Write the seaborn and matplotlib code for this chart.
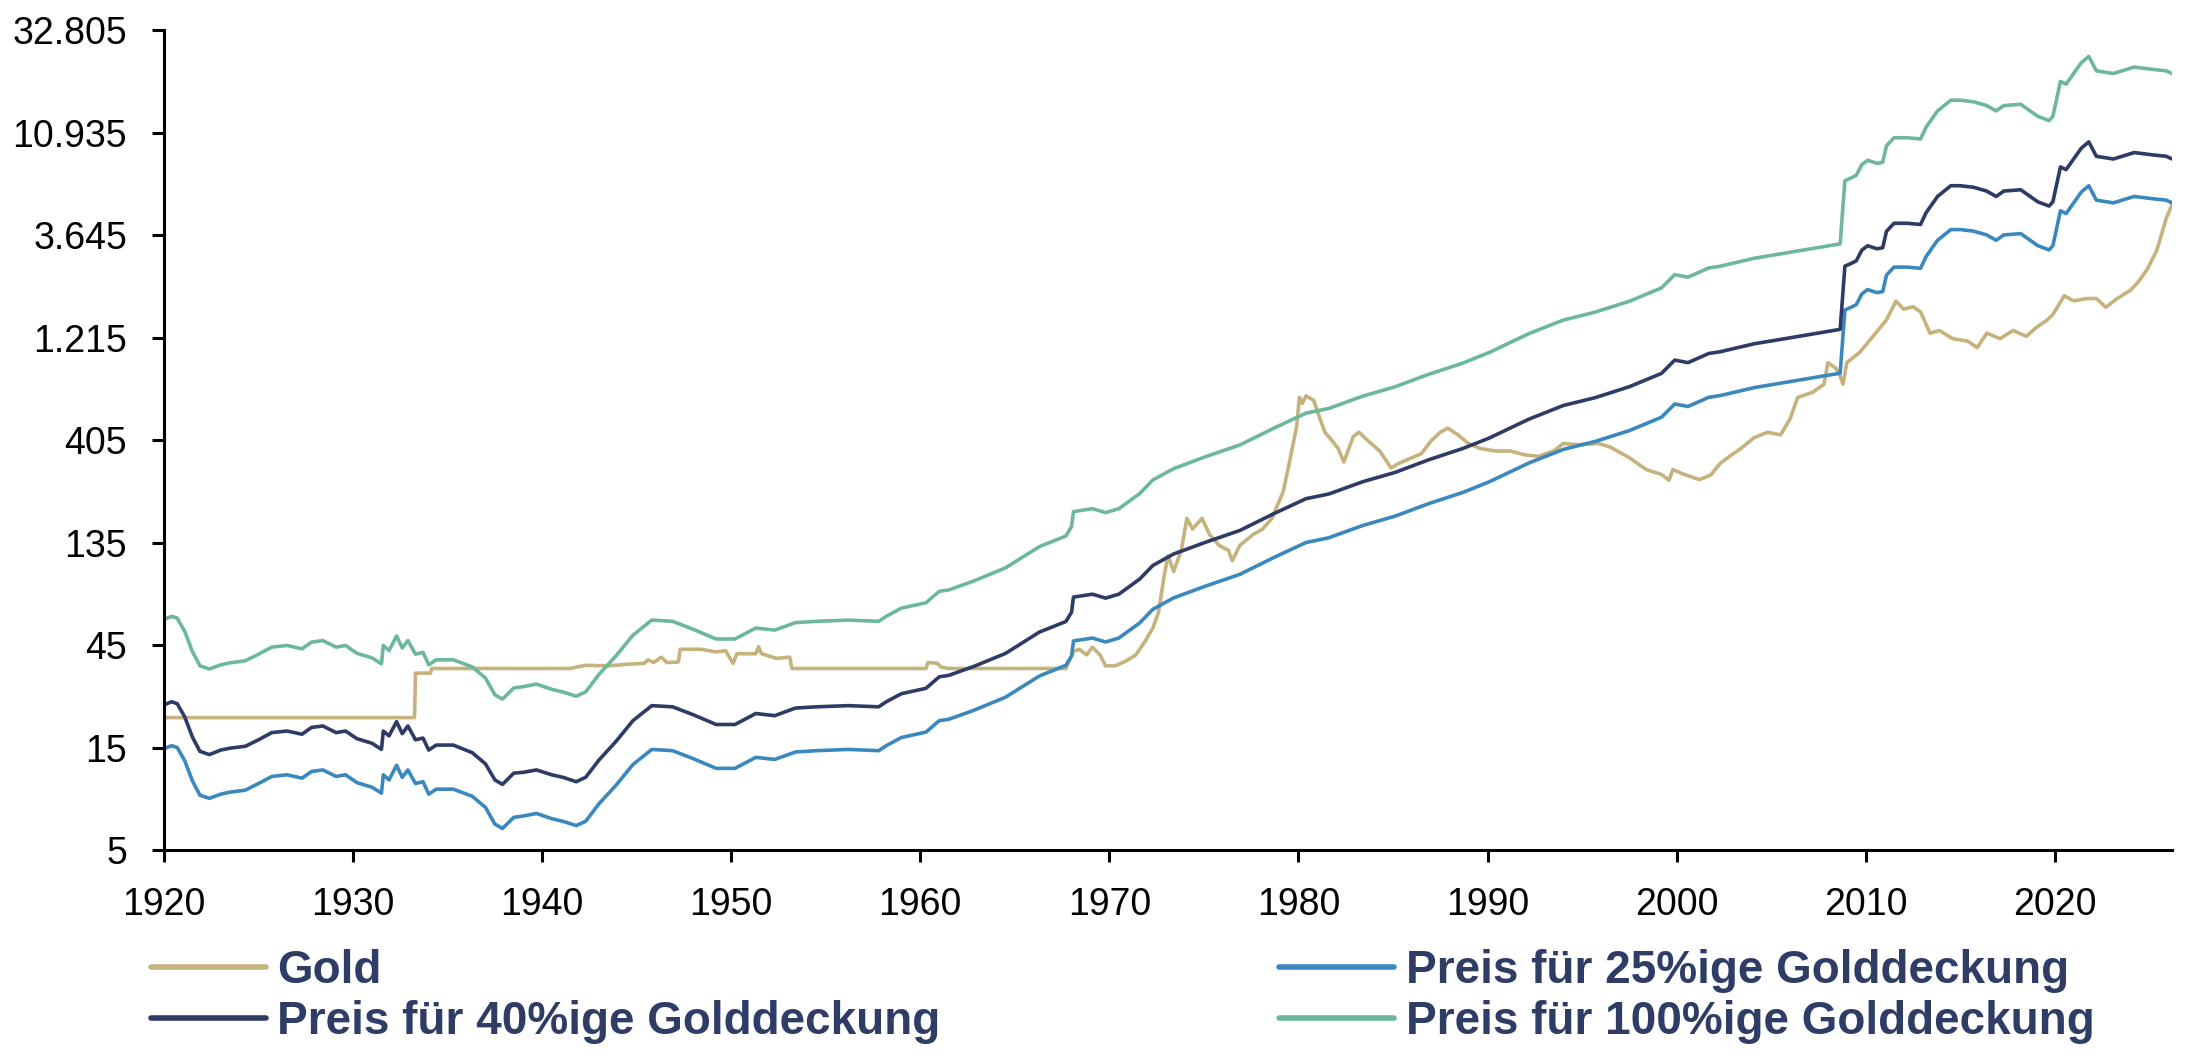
import pandas as pd
import matplotlib
matplotlib.use('Agg')
import matplotlib.pyplot as plt
import seaborn as sns

# gold price in USD/oz
gold_years = [1920.0, 1933.25, 1933.3, 1934.1, 1934.15, 1941.5, 1941.8, 1942.3, 1943.5, 1944.5,
              1945.4, 1945.6, 1945.9, 1946.3, 1946.6, 1947.2, 1947.3, 1948.4, 1949.2, 1949.7,
              1949.9, 1950.1, 1950.3, 1951.3, 1951.45, 1951.6, 1952.4, 1953.1, 1953.2, 1960.3,
              1960.4, 1960.9, 1961.1, 1961.5, 1967.7, 1968.1, 1968.4, 1968.8, 1969.1, 1969.5,
              1969.8, 1970.3, 1970.9, 1971.4, 1971.9, 1972.3, 1972.6, 1972.9, 1973.1, 1973.4,
              1973.8, 1974.1, 1974.4, 1974.9, 1975.3, 1975.8, 1976.3, 1976.5, 1976.9, 1977.6,
              1978.1, 1978.6, 1979.2, 1979.5, 1979.9, 1980.05, 1980.2, 1980.4, 1980.8, 1981.1,
              1981.4, 1981.8, 1982.1, 1982.4, 1982.9, 1983.2, 1983.7, 1984.3, 1984.9, 1985.3,
              1986.0, 1986.5, 1987.0, 1987.5, 1987.9, 1988.4, 1989.0, 1989.6, 1990.4, 1991.2,
              1992.0, 1992.7, 1993.5, 1994.0, 1994.8, 1995.9, 1996.5, 1997.5, 1998.4, 1999.2,
              1999.6, 1999.8, 2000.4, 2001.2, 2001.8, 2002.3, 2002.8, 2003.4, 2004.1, 2004.8,
              2005.5, 2006.0, 2006.4, 2007.2, 2007.8, 2008.0, 2008.4, 2008.6, 2008.8, 2009.0,
              2009.7, 2010.4, 2011.1, 2011.6, 2012.0, 2012.5, 2012.9, 2013.4, 2013.9, 2014.6,
              2015.4, 2015.9, 2016.4, 2017.1, 2017.8, 2018.5, 2019.0, 2019.6, 2019.9, 2020.5,
              2021.0, 2021.7, 2022.2, 2022.7, 2023.3, 2024.0, 2024.4, 2024.9, 2025.4, 2025.9,
              2026.2]
gold_price = [20.67, 20.67, 33.3, 33.3, 35.0, 35.0, 35.5, 36.2, 36.0, 36.6,
              37.0, 38.4, 37.3, 39.5, 37.3, 37.5, 43.0, 43.0, 41.8, 42.3,
              39.5, 37.0, 41.0, 41.0, 44.2, 41.0, 39.0, 39.5, 35.0, 35.0,
              37.3, 37.0, 35.5, 35.0, 35.0, 42.0, 43.0, 40.5, 44.0, 40.5,
              36.0, 36.0, 38.0, 40.5, 47.0, 54.0, 64.0, 95.0, 117, 99,
              124, 175, 156, 175, 147, 131, 124, 111, 131, 147,
              156, 175, 234, 312, 466, 640, 600, 650, 620, 520,
              440, 400, 370, 320, 420, 440, 400, 360, 300, 315,
              335, 350, 400, 440, 460, 430, 390, 370, 360, 360,
              345, 340, 360, 390, 385, 390, 375, 335, 295, 280,
              263, 295, 280, 265, 278, 315, 340, 370, 415, 440,
              428, 508, 639, 676, 737, 928, 876, 827, 737, 928,
              1040, 1235, 1467, 1795, 1647, 1690, 1600, 1273, 1310, 1200,
              1168, 1090, 1273, 1200, 1310, 1230, 1348, 1467, 1555, 1900,
              1800, 1845, 1845, 1680, 1845, 2015, 2195, 2533, 3100, 4372,
              5050]

# gold price needed for 25 / 40 / 100 % gold backing
backing_years = [1920.0, 1920.4, 1920.7, 1921.1, 1921.5, 1921.9, 1922.4, 1923.0, 1923.5, 1924.3,
                 1925.0, 1925.7, 1926.5, 1927.3, 1927.8, 1928.4, 1929.1, 1929.6, 1930.2, 1931.0,
                 1931.5, 1931.6, 1931.9, 1932.3, 1932.6, 1932.9, 1933.3, 1933.7, 1934.0, 1934.4,
                 1935.3, 1936.3, 1937.0, 1937.5, 1937.9, 1938.5, 1939.0, 1939.7, 1940.5, 1941.1,
                 1941.8, 1942.3, 1943.0, 1943.9, 1944.8, 1945.8, 1946.9, 1948.0, 1949.2, 1950.2,
                 1951.3, 1952.3, 1953.4, 1954.5, 1956.2, 1957.8, 1958.2, 1959.0, 1960.3, 1961.0,
                 1961.5, 1962.8, 1964.5, 1965.4, 1966.3, 1967.7, 1968.0, 1968.1, 1969.1, 1969.8,
                 1970.5, 1971.6, 1972.3, 1973.4, 1975.1, 1976.9, 1978.7, 1980.4, 1981.6, 1983.4,
                 1985.1, 1986.9, 1988.7, 1990.1, 1992.2, 1994.0, 1995.7, 1997.5, 1999.2, 1999.9,
                 2000.6, 2001.7, 2002.3, 2004.1, 2005.8, 2008.65, 2008.9, 2009.2, 2009.5, 2009.8,
                 2010.1, 2010.6, 2010.9, 2011.1, 2011.5, 2012.2, 2012.9, 2013.2, 2013.8, 2014.5,
                 2015.0, 2015.7, 2016.4, 2016.9, 2017.3, 2018.2, 2019.1, 2019.7, 2019.9, 2020.3,
                 2020.6, 2021.4, 2021.8, 2022.2, 2023.1, 2024.2, 2025.2, 2025.9, 2026.2]
backing_25 = [14.8, 15.3, 15.0, 13.0, 10.5, 9.0, 8.7, 9.1, 9.3, 9.5,
              10.2, 11.0, 11.2, 10.8, 11.6, 11.8, 11.0, 11.2, 10.3, 9.8,
              9.2, 11.2, 10.6, 12.4, 10.9, 11.8, 10.2, 10.4, 9.1, 9.6,
              9.6, 8.9, 7.9, 6.6, 6.3, 7.1, 7.2, 7.4, 7.0, 6.8,
              6.5, 6.8, 8.2, 10.0, 12.5, 14.7, 14.5, 13.3, 12.0, 12.0,
              13.5, 13.2, 14.3, 14.5, 14.7, 14.5, 15.3, 16.7, 17.7, 20.0,
              20.3, 22.3, 25.7, 28.8, 32.3, 36.2, 40.0, 47.0, 48.5, 46.5,
              48.5, 57.0, 66.0, 74.6, 84.7, 96.0, 115, 135, 142, 162,
              179, 205, 231, 259, 317, 366, 399, 448, 517, 596,
              580, 640, 652, 710, 752, 829, 1632, 1675, 1727, 1939,
              2030, 1965, 1988, 2371, 2584, 2584, 2550, 2900, 3444, 3864,
              3864, 3800, 3648, 3444, 3648, 3700, 3252, 3106, 3252, 4725,
              4590, 5772, 6182, 5295, 5145, 5512, 5375, 5295, 5145]
backing_40 = [23.7, 24.5, 24.0, 20.8, 16.8, 14.4, 13.9, 14.6, 14.9, 15.2,
              16.3, 17.6, 17.9, 17.3, 18.6, 18.9, 17.6, 17.9, 16.5, 15.7,
              14.7, 17.9, 17.0, 19.8, 17.4, 18.9, 16.3, 16.6, 14.6, 15.4,
              15.4, 14.2, 12.6, 10.6, 10.1, 11.4, 11.5, 11.8, 11.2, 10.9,
              10.4, 10.9, 13.1, 16.0, 20.0, 23.5, 23.2, 21.3, 19.2, 19.2,
              21.6, 21.1, 22.9, 23.2, 23.5, 23.2, 24.5, 26.7, 28.3, 32.0,
              32.5, 35.7, 41.1, 46.1, 51.7, 57.9, 64.0, 75.2, 77.6, 74.4,
              77.6, 91.2, 105.6, 119.4, 135.5, 153.6, 184, 216, 227, 259,
              286, 328, 370, 414, 507, 586, 638, 717, 827, 954,
              928, 1024, 1043, 1136, 1203, 1326, 2611, 2680, 2763, 3102,
              3248, 3144, 3181, 3794, 4134, 4134, 4080, 4640, 5510, 6182,
              6182, 6080, 5837, 5510, 5837, 5920, 5203, 4970, 5203, 7560,
              7344, 9235, 9891, 8472, 8232, 8819, 8600, 8472, 8232]
backing_100 = [59.2, 61.2, 60.0, 52.0, 42.0, 36.0, 34.8, 36.4, 37.2, 38.0,
               40.8, 44.0, 44.8, 43.2, 46.4, 47.2, 44.0, 44.8, 41.2, 39.2,
               36.8, 44.8, 42.4, 49.6, 43.6, 47.2, 40.8, 41.6, 36.4, 38.4,
               38.4, 35.6, 31.6, 26.4, 25.2, 28.4, 28.8, 29.6, 28.0, 27.2,
               26.0, 27.2, 32.8, 40.0, 50.0, 58.8, 58.0, 53.2, 48.0, 48.0,
               54.0, 52.8, 57.2, 58.0, 58.8, 58.0, 61.2, 66.8, 70.8, 80.0,
               81.2, 89.2, 102.8, 115.2, 129.2, 144.8, 160, 188, 194, 186,
               194, 228, 264, 298, 339, 384, 460, 540, 568, 648,
               716, 820, 924, 1036, 1268, 1464, 1596, 1792, 2068, 2384,
               2320, 2560, 2608, 2840, 3008, 3316, 6528, 6700, 6908, 7756,
               8120, 7860, 7952, 9484, 10336, 10336, 10200, 11600, 13776, 15456,
               15456, 15200, 14592, 13776, 14592, 14800, 13008, 12424, 13008, 18900,
               18360, 23088, 24728, 21180, 20580, 22048, 21500, 21180, 20580]

y_ticks = [5, 15, 45, 135, 405, 1215, 3645, 10935, 32805]
y_tick_labels = ['5', '15', '45', '135', '405', '1.215', '3.645', '10.935', '32.805']
x_ticks = [1920, 1930, 1940, 1950, 1960, 1970, 1980, 1990, 2000, 2010, 2020]

names = ['Gold', 'Preis für 25%ige Golddeckung',
         'Preis für 40%ige Golddeckung', 'Preis für 100%ige Golddeckung']
colors = {names[0]: '#C5B27D', names[1]: '#3A88BE',
          names[2]: '#2D3B66', names[3]: '#6DB89C'}

frames = [pd.DataFrame({'year': gold_years, 'value': gold_price, 'series': names[0]})]
for name, vals in zip(names[1:], [backing_25, backing_40, backing_100]):
    frames.append(pd.DataFrame({'year': backing_years, 'value': vals, 'series': name}))
df = pd.concat(frames, ignore_index=True)

sns.set_style('ticks')
plt.rcParams['font.family'] = ['Liberation Sans', 'DejaVu Sans']

fig = plt.figure(figsize=(21.9, 10.64), dpi=100)
ax = fig.add_axes([164 / 2190, 0.2011, (2172 - 164) / 2190, 0.9718 - 0.2011])

sns.lineplot(data=df, x='year', y='value', hue='series', hue_order=names,
             palette=colors, estimator=None, linewidth=2.6, ax=ax)

ax.set_yscale('log')
ax.set_ylim(5, 32805)
ax.set_xlim(1920, 2026.2)
ax.yaxis.set_minor_locator(matplotlib.ticker.NullLocator())
ax.set_yticks(y_ticks)
ax.set_yticklabels(y_tick_labels)
ax.set_xticks(x_ticks)
ax.set_xlabel('')
ax.set_ylabel('')

sns.despine(ax=ax)
for side in ['left', 'bottom']:
    ax.spines[side].set_linewidth(2.2)
    ax.spines[side].set_color('black')
ax.tick_params(axis='both', direction='out', length=8.5, width=2.2,
               labelsize=27, pad=18, colors='black')

handles, labels = ax.get_legend_handles_labels()
ax.get_legend().remove()
lookup = dict(zip(labels, handles))
order = [names[0], names[2], names[1], names[3]]
leg = fig.legend([lookup[n] for n in order], order, loc='center left',
                 bbox_to_anchor=(151 / 2190, 1 - 996.5 / 1064), ncol=2,
                 frameon=False, borderpad=0, borderaxespad=0,
                 handlelength=2.5, handletextpad=0.25, columnspacing=7.4,
                 labelspacing=0.15, prop={'size': 33, 'weight': 'bold'})
for t in leg.get_texts():
    t.set_color('#2F3D66')
for h in leg.legend_handles:
    h.set_linewidth(4)

fig.savefig('out.png', dpi=100)
